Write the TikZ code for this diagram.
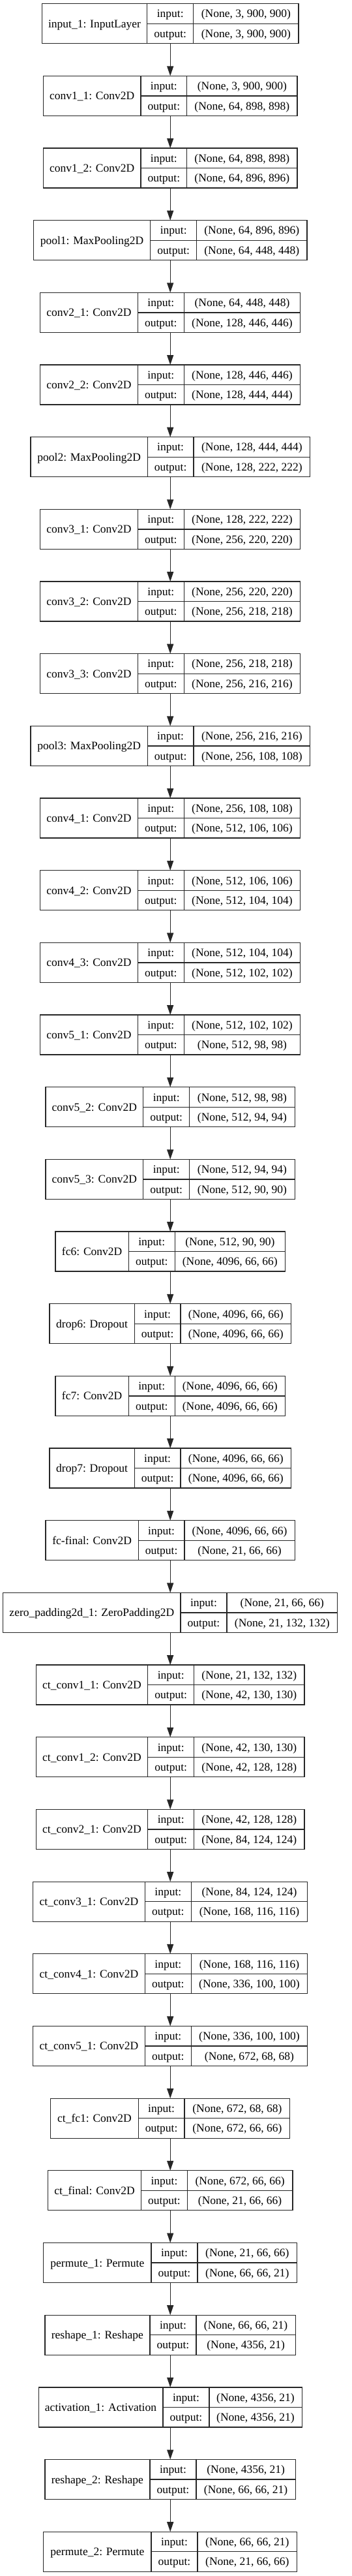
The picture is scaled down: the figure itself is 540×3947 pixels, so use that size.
\documentclass[tikz,border=0pt]{standalone}
\usepackage{fontspec}
\setmainfont{Liberation Serif}
\usetikzlibrary{arrows.meta}

\tikzset{
  layer/.style={draw=black!85, line width=1.3pt, inner sep=0pt, outer sep=0pt, minimum height=61pt},
  cell/.style={draw=black!85, line width=1.3pt},
  txt/.style={inner sep=0pt, anchor=base, font=\fontsize{17.5}{20}\selectfont},
  flow/.style={-{Triangle[length=15pt,width=10pt]}, draw=black!85, line width=1.3pt},
}

% one keras layer: name, row, title, left, divider 1, divider 2, right, input, output
\newcommand{\kerasLayer}[9]{%
  \pgfmathsetmacro{\ytop}{-5.7-110.67*#2}
  \node[layer, minimum width={#7-#4}] (#1) at (261.2,\ytop-30.5) {};
  \draw[cell] (#5,\ytop) -- (#5,\ytop-61)
              (#6,\ytop) -- (#6,\ytop-61)
              (#5,\ytop-30.5) -- (#7,\ytop-30.5);
  \node[txt] at ({(#4+#5)/2},\ytop-36.5) {#3};
  \node[txt] at ({(#5+#6)/2},\ytop-21.25) {input:};
  \node[txt] at ({(#5+#6)/2},\ytop-51.75) {output:};
  \node[txt] at ({(#6+#7)/2},\ytop-21.25) {#8};
  \node[txt] at ({(#6+#7)/2},\ytop-51.75) {#9};
}

\begin{document}
\begin{tikzpicture}[x=1pt, y=1pt]
  \useasboundingbox (0,0) rectangle (540,-3947);

  \kerasLayer{input1}{0}{input\_1: InputLayer}{64.3}{225.7}{296.7}{458}{(None, 3, 900, 900)}{(None, 3, 900, 900)}
  \kerasLayer{conv11}{1}{conv1\_1: Conv2D}{66.3}{216}{286.7}{456}{(None, 3, 900, 900)}{(None, 64, 898, 898)}
  \kerasLayer{conv12}{2}{conv1\_2: Conv2D}{66.3}{216}{286.7}{456}{(None, 64, 898, 898)}{(None, 64, 896, 896)}
  \kerasLayer{pool1}{3}{pool1: MaxPooling2D}{51.3}{230.7}{301.7}{470.7}{(None, 64, 896, 896)}{(None, 64, 448, 448)}
  \kerasLayer{conv21}{4}{conv2\_1: Conv2D}{61.7}{211.3}{282.3}{460.7}{(None, 64, 448, 448)}{(None, 128, 446, 446)}
  \kerasLayer{conv22}{5}{conv2\_2: Conv2D}{61.7}{211.3}{282.3}{460.7}{(None, 128, 446, 446)}{(None, 128, 444, 444)}
  \kerasLayer{pool2}{6}{pool2: MaxPooling2D}{47}{226.3}{297}{475.7}{(None, 128, 444, 444)}{(None, 128, 222, 222)}
  \kerasLayer{conv31}{7}{conv3\_1: Conv2D}{61.7}{211.3}{282.3}{460.7}{(None, 128, 222, 222)}{(None, 256, 220, 220)}
  \kerasLayer{conv32}{8}{conv3\_2: Conv2D}{61.7}{211.3}{282.3}{460.7}{(None, 256, 220, 220)}{(None, 256, 218, 218)}
  \kerasLayer{conv33}{9}{conv3\_3: Conv2D}{61.7}{211.3}{282.3}{460.7}{(None, 256, 218, 218)}{(None, 256, 216, 216)}
  \kerasLayer{pool3}{10}{pool3: MaxPooling2D}{47}{226.3}{297}{475.7}{(None, 256, 216, 216)}{(None, 256, 108, 108)}
  \kerasLayer{conv41}{11}{conv4\_1: Conv2D}{61.7}{211.3}{282.3}{460.7}{(None, 256, 108, 108)}{(None, 512, 106, 106)}
  \kerasLayer{conv42}{12}{conv4\_2: Conv2D}{61.7}{211.3}{282.3}{460.7}{(None, 512, 106, 106)}{(None, 512, 104, 104)}
  \kerasLayer{conv43}{13}{conv4\_3: Conv2D}{61.7}{211.3}{282.3}{460.7}{(None, 512, 104, 104)}{(None, 512, 102, 102)}
  \kerasLayer{conv51}{14}{conv5\_1: Conv2D}{61.7}{211.3}{282.3}{460.7}{(None, 512, 102, 102)}{(None, 512, 98, 98)}
  \kerasLayer{conv52}{15}{conv5\_2: Conv2D}{70}{219.7}{290.7}{452.3}{(None, 512, 98, 98)}{(None, 512, 94, 94)}
  \kerasLayer{conv53}{16}{conv5\_3: Conv2D}{70}{219.7}{290.7}{452.3}{(None, 512, 94, 94)}{(None, 512, 90, 90)}
  \kerasLayer{fc6}{17}{fc6: Conv2D}{85}{197.3}{268.3}{437.3}{(None, 512, 90, 90)}{(None, 4096, 66, 66)}
  \kerasLayer{drop6}{18}{drop6: Dropout}{76}{206.3}{277}{446.7}{(None, 4096, 66, 66)}{(None, 4096, 66, 66)}
  \kerasLayer{fc7}{19}{fc7: Conv2D}{85}{197.3}{268.3}{437.3}{(None, 4096, 66, 66)}{(None, 4096, 66, 66)}
  \kerasLayer{drop7}{20}{drop7: Dropout}{76}{206.3}{277}{446.7}{(None, 4096, 66, 66)}{(None, 4096, 66, 66)}
  \kerasLayer{fcfinal}{21}{fc-final: Conv2D}{70}{212.3}{283}{452.3}{(None, 4096, 66, 66)}{(None, 21, 66, 66)}
  \kerasLayer{zeropad}{22}{zero\_padding2d\_1: ZeroPadding2D}{4.7}{277}{348}{517.7}{(None, 21, 66, 66)}{(None, 21, 132, 132)}
  \kerasLayer{ctconv11}{23}{ct\_conv1\_1: Conv2D}{55.3}{226.7}{297.7}{467}{(None, 21, 132, 132)}{(None, 42, 130, 130)}
  \kerasLayer{ctconv12}{24}{ct\_conv1\_2: Conv2D}{55.3}{226.7}{297.7}{467}{(None, 42, 130, 130)}{(None, 42, 128, 128)}
  \kerasLayer{ctconv21}{25}{ct\_conv2\_1: Conv2D}{55.3}{226.7}{297.7}{467}{(None, 42, 128, 128)}{(None, 84, 124, 124)}
  \kerasLayer{ctconv31}{26}{ct\_conv3\_1: Conv2D}{50.7}{222.3}{293.3}{471.7}{(None, 84, 124, 124)}{(None, 168, 116, 116)}
  \kerasLayer{ctconv41}{27}{ct\_conv4\_1: Conv2D}{50.7}{222.3}{293.3}{471.7}{(None, 168, 116, 116)}{(None, 336, 100, 100)}
  \kerasLayer{ctconv51}{28}{ct\_conv5\_1: Conv2D}{50.7}{222.3}{293.3}{471.7}{(None, 336, 100, 100)}{(None, 672, 68, 68)}
  \kerasLayer{ctfc1}{29}{ct\_fc1: Conv2D}{77.7}{212.3}{283}{444.7}{(None, 672, 68, 68)}{(None, 672, 66, 66)}
  \kerasLayer{ctfinal}{30}{ct\_final: Conv2D}{73.3}{216.7}{287.3}{449}{(None, 672, 66, 66)}{(None, 21, 66, 66)}
  \kerasLayer{permute1}{31}{permute\_1: Permute}{66.7}{232}{303}{455.7}{(None, 21, 66, 66)}{(None, 66, 66, 21)}
  \kerasLayer{reshape1}{32}{reshape\_1: Reshape}{68.7}{230}{301}{453.3}{(None, 66, 66, 21)}{(None, 4356, 21)}
  \kerasLayer{activation1}{33}{activation\_1: Activation}{59}{250}{321}{463}{(None, 4356, 21)}{(None, 4356, 21)}
  \kerasLayer{reshape2}{34}{reshape\_2: Reshape}{68.7}{230}{301}{453.3}{(None, 4356, 21)}{(None, 66, 66, 21)}
  \kerasLayer{permute2}{35}{permute\_2: Permute}{66.7}{232}{303}{455.7}{(None, 66, 66, 21)}{(None, 21, 66, 66)}

  % connectors
  \foreach \a/\b in {input1/conv11, conv11/conv12, conv12/pool1, pool1/conv21, conv21/conv22,
      conv22/pool2, pool2/conv31, conv31/conv32, conv32/conv33, conv33/pool3, pool3/conv41,
      conv41/conv42, conv42/conv43, conv43/conv51, conv51/conv52, conv52/conv53, conv53/fc6,
      fc6/drop6, drop6/fc7, fc7/drop7, drop7/fcfinal, fcfinal/zeropad, zeropad/ctconv11,
      ctconv11/ctconv12, ctconv12/ctconv21, ctconv21/ctconv31, ctconv31/ctconv41,
      ctconv41/ctconv51, ctconv51/ctfc1, ctfc1/ctfinal, ctfinal/permute1, permute1/reshape1,
      reshape1/activation1, activation1/reshape2, reshape2/permute2}
    \draw[flow] (\a.south) -- (\b.north);
\end{tikzpicture}
\end{document}
